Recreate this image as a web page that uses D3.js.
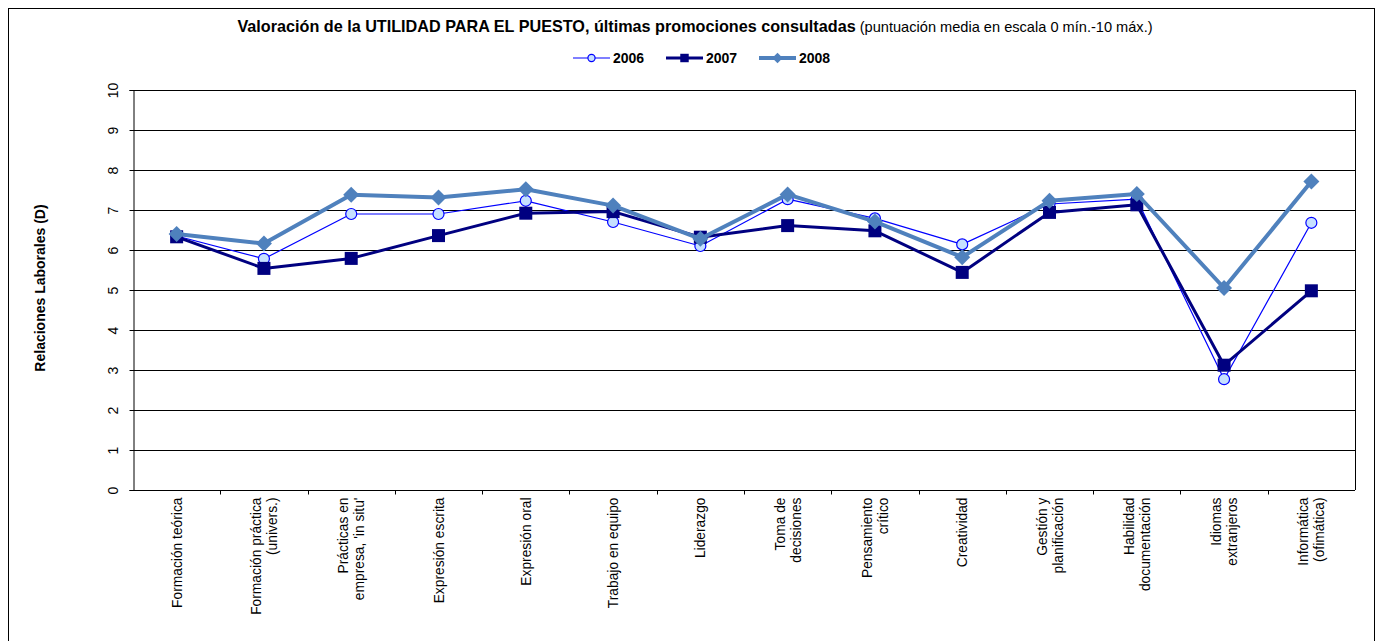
<!DOCTYPE html>
<html>
<head>
<meta charset="utf-8">
<script src="https://cdn.jsdelivr.net/npm/d3@7"></script>
<style>
  body { margin: 0; background: #fff; }
  svg { font-family: Arial, "Liberation Sans", sans-serif; }
</style>
</head>
<body>
<div id="chart"></div>
<script>
// categories (each label split in lines as in the original)
var categories = [
  ["Formación teórica"],
  ["Formación práctica", "(univers.)"],
  ["Prácticas en", "empresa, 'in situ'"],
  ["Expresión escrita"],
  ["Expresión oral"],
  ["Trabajo en equipo"],
  ["Liderazgo"],
  ["Toma de", "decisiones"],
  ["Pensamiento", "crítico"],
  ["Creatividad"],
  ["Gestión y", "planificación"],
  ["Habilidad", "documentación"],
  ["Idiomas", "extranjeros"],
  ["Informática", "(ofimática)"]
];

var years = ["2006", "2007", "2008"];

var values2006 = [6.35, 5.78, 6.90, 6.90, 7.23, 6.70, 6.10, 7.27, 6.79, 6.14, 7.15, 7.27, 2.77, 6.68];
var values2007 = [6.33, 5.54, 5.79, 6.36, 6.92, 6.96, 6.32, 6.61, 6.48, 5.44, 6.94, 7.13, 3.12, 4.98];
var values2008 = [6.40, 6.16, 7.38, 7.31, 7.52, 7.11, 6.28, 7.39, 6.71, 5.82, 7.23, 7.40, 5.05, 7.71];

var yTicks = [0, 1, 2, 3, 4, 5, 6, 7, 8, 9, 10];

var series = [
  {year: years[0], values: values2006, color: "#0000ff", width: 1.2, marker: "circle"},
  {year: years[1], values: values2007, color: "#000080", width: 3, marker: "square"},
  {year: years[2], values: values2008, color: "#4f81bd", width: 4, marker: "diamond"}
];

var W = 1383, H = 641;
var margin = {top: 90, right: 28, bottom: 151, left: 133};
var width = W - margin.left - margin.right,
    height = H - margin.top - margin.bottom;

var svg = d3.select("#chart").append("svg")
    .attr("width", W)
    .attr("height", H);

// outer frame
svg.append("rect")
    .attr("x", 8.5).attr("y", 8.5)
    .attr("width", W - 17).attr("height", H - 8)
    .attr("fill", "none").attr("stroke", "#000").attr("stroke-width", 1);

// title
var title = svg.append("text")
    .attr("x", 695).attr("y", 32)
    .attr("text-anchor", "middle");
title.append("tspan")
    .attr("font-weight", "bold").attr("font-size", "16.2px")
    .text("Valoración de la UTILIDAD PARA EL PUESTO, últimas promociones consultadas");
title.append("tspan")
    .attr("font-size", "14.6px")
    .text(" (puntuación media en escala 0 mín.-10 máx.)");

var g = svg.append("g")
    .attr("transform", "translate(" + margin.left + "," + margin.top + ")");

var xScale = d3.scaleBand()
    .domain(d3.range(categories.length))
    .range([0, width])
    .padding(0);

var yScale = d3.scaleLinear()
    .domain([0, 10])
    .range([height, 0]);

// gridlines
g.selectAll(".grid")
    .data(yTicks.slice(1))
    .enter().append("line")
    .attr("class", "grid")
    .attr("x1", 0).attr("x2", width)
    .attr("y1", function(d) { return Math.round(yScale(d)) + 0.5; })
    .attr("y2", function(d) { return Math.round(yScale(d)) + 0.5; })
    .attr("stroke", "#000").attr("stroke-width", 1);

// plot border (right side)
g.append("line")
    .attr("x1", width + 0.5).attr("x2", width + 0.5)
    .attr("y1", 0).attr("y2", height)
    .attr("stroke", "#000");

// y axis with rotated tick labels
var yAxis = d3.axisLeft(yScale)
    .tickValues(yTicks)
    .tickSize(4)
    .tickPadding(10)
    .tickFormat(d3.format("d"));

var yAxisG = g.append("g")
    .attr("class", "y axis")
    .attr("transform", "translate(0.5,0)")
    .call(yAxis);
yAxisG.select(".domain").attr("stroke", "#000");
yAxisG.selectAll(".tick line").attr("stroke", "#000");
yAxisG.selectAll(".tick text")
    .attr("font-size", "14px")
    .attr("fill", "#000")
    .attr("text-anchor", "middle")
    .attr("dy", null)
    .attr("x", null)
    .attr("transform", "translate(-21,0) rotate(-90)")
    .attr("y", 5);

// x axis: ticks on category boundaries
var xAxisG = g.append("g")
    .attr("class", "x axis")
    .attr("transform", "translate(0," + (height + 0.5) + ")");
xAxisG.append("line")
    .attr("x1", 0).attr("x2", width)
    .attr("stroke", "#000");
xAxisG.selectAll(".xtick")
    .data(d3.range(1, categories.length))
    .enter().append("line")
    .attr("class", "xtick")
    .attr("x1", function(d) { return Math.round(xScale(d)) + 0.5; })
    .attr("x2", function(d) { return Math.round(xScale(d)) + 0.5; })
    .attr("y1", 0).attr("y2", 4)
    .attr("stroke", "#000");

// x labels, rotated, top aligned
var lineGap = 16;
var labels = xAxisG.selectAll(".xlabel")
    .data(categories)
    .enter().append("g")
    .attr("class", "xlabel")
    .attr("transform", function(d, i) {
      return "translate(" + (xScale(i) + xScale.bandwidth() / 2) + ",7) rotate(-90)";
    });
labels.each(function(lines) {
  var n = lines.length;
  d3.select(this).selectAll("text")
    .data(lines)
    .enter().append("text")
    .attr("text-anchor", "end")
    .attr("font-size", "13.8px")
    .attr("x", 0)
    .attr("y", function(d, j) { return (j - (n - 1) / 2) * lineGap + 5; })
    .text(function(d) { return d; });
});

// y axis title
svg.append("text")
    .attr("transform", "translate(45," + (margin.top + height / 2 - 2) + ") rotate(-90)")
    .attr("text-anchor", "middle")
    .attr("font-weight", "bold")
    .attr("font-size", "14px")
    .text("Relaciones Laborales (D)");

// lines
var line = d3.line()
    .x(function(d, i) { return xScale(i) + xScale.bandwidth() / 2; })
    .y(function(d) { return yScale(d); });

function drawMarker(sel, s, cx, cy, k) {
  if (s.marker === "circle") {
    sel.append("circle")
      .attr("cx", cx).attr("cy", cy).attr("r", 5.5 * k)
      .attr("fill", "#c6e0ff").attr("stroke", s.color).attr("stroke-width", 1.2);
  } else if (s.marker === "square") {
    sel.append("rect")
      .attr("x", cx - 6.5 * k).attr("y", cy - 6.5 * k)
      .attr("width", 13 * k).attr("height", 13 * k)
      .attr("fill", s.color);
  } else {
    var r = 8 * k;
    sel.append("path")
      .attr("d", "M" + cx + "," + (cy - r) + "L" + (cx + r) + "," + cy + "L" + cx + "," + (cy + r) + "L" + (cx - r) + "," + cy + "Z")
      .attr("fill", s.color);
  }
}

series.forEach(function(s) {
  var sg = g.append("g").attr("class", "series s" + s.year);
  sg.append("path")
    .datum(s.values)
    .attr("d", line)
    .attr("fill", "none")
    .attr("stroke", s.color)
    .attr("stroke-width", s.width)
    .attr("stroke-linejoin", "round");
  s.values.forEach(function(v, i) {
    drawMarker(sg, s, xScale(i) + xScale.bandwidth() / 2, yScale(v), 1);
  });
});

// legend
var legendX = [573, 666, 759];
var legend = svg.append("g").attr("class", "legend");
series.forEach(function(s, k) {
  var lg = legend.append("g").attr("transform", "translate(" + legendX[k] + ",58)");
  lg.append("line")
    .attr("x1", 0).attr("x2", 37)
    .attr("stroke", s.color).attr("stroke-width", s.width);
  drawMarker(lg, s, 18.5, 0, 0.65);
  lg.append("text")
    .attr("x", 40).attr("y", 5)
    .attr("font-weight", "bold").attr("font-size", "14px")
    .text(s.year);
});
</script>
</body>
</html>
